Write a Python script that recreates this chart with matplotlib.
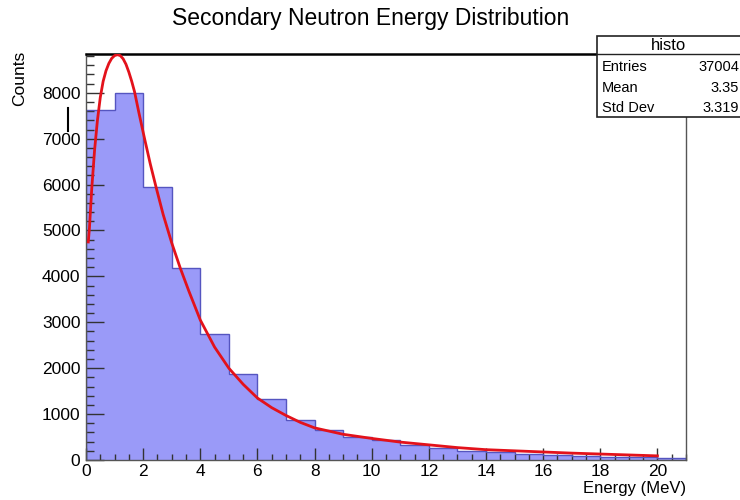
# secondary neutron energy histogram with fit curve, ROOT-like look
import numpy as np
import matplotlib
matplotlib.use('Agg')
import matplotlib.pyplot as plt
from matplotlib.patches import Rectangle
from matplotlib.lines import Line2D
from matplotlib.ticker import MultipleLocator

plt.rcParams['font.family'] = ['Liberation Sans', 'DejaVu Sans']

# histogram contents, 1 MeV bins from 0 to 21
bin_edges = np.arange(0, 22)
counts = [7625, 8000, 5950, 4180, 2740, 1870, 1330, 870, 650, 500,
          435, 330, 260, 200, 175, 130, 110, 90, 65, 65, 40]

# fit curve
fit_x = [0.08, 0.12, 0.2, 0.3, 0.4, 0.5, 0.6, 0.7, 0.8, 0.9, 1.0, 1.1,
         1.2, 1.3, 1.4, 1.5, 1.6, 1.7, 1.85, 2.05, 2.25, 2.45, 2.7, 3.0,
         3.3, 3.6, 4.0, 4.5, 5.0, 5.5, 6.0, 6.5, 7.0, 7.5, 8.0, 9.0,
         10.0, 11.0, 12.0, 13.0, 14.0, 15.0, 16.0, 17.0, 18.0, 19.0, 20.0]
fit_y = [4750, 5050, 5900, 6750, 7400, 7900, 8250, 8480, 8640, 8750, 8810, 8830,
         8810, 8740, 8620, 8450, 8250, 8020, 7570, 7000, 6450, 5950, 5350, 4730,
         4180, 3680, 3050, 2460, 2000, 1650, 1350, 1140, 970, 820, 700, 560,
         470, 390, 330, 270, 225, 200, 175, 150, 130, 110, 90]

title = 'Secondary Neutron Energy Distribution'
stats_rows = [('Entries', '37004'), ('Mean', '3.35'), ('Std Dev', '3.319')]

fig = plt.figure(figsize=(7.4, 5.0), dpi=100)
ax = fig.add_axes([86/740, 40/500, 600/740, 406/500])

ax.stairs(counts, bin_edges, fill=True, color='#9a9af8', zorder=1)
ax.stairs(counts, bin_edges, color='#5555c0', lw=1.0, zorder=2)
ax.plot(fit_x, fit_y, color='#e3121b', lw=2.0, zorder=3)

ax.set_xlim(0, 21)
ax.set_ylim(0, 8845)
ax.xaxis.set_major_locator(MultipleLocator(2))
ax.xaxis.set_minor_locator(MultipleLocator(0.5))
ax.yaxis.set_major_locator(MultipleLocator(1000))
ax.yaxis.set_minor_locator(MultipleLocator(200))
ax.tick_params(axis='x', which='major', direction='in', length=9, width=1,
               color='#333333', labelsize=12.5, pad=3)
ax.tick_params(axis='x', which='minor', direction='in', length=4, width=1,
               color='#333333')
ax.tick_params(axis='y', which='major', direction='in', length=13, width=1,
               color='#333333', labelsize=12.5, pad=4)
ax.tick_params(axis='y', which='minor', direction='in', length=6, width=1,
               color='#333333')
for s in ['left', 'right', 'bottom']:
    ax.spines[s].set_color('#555555')
    ax.spines[s].set_linewidth(1.0)
ax.spines['top'].set_color('black')
ax.spines['top'].set_linewidth(1.8)

# axis titles
fig.text(20/740, 1 - 51/500, 'Counts', rotation=90, ha='center', va='top',
         fontsize=12.5)
fig.text(686/740, 1 - 489/500, 'Energy (MeV)', ha='right', va='center',
         fontsize=12)
fig.text(371/740, 1 - 18/500, title, ha='center', va='center', fontsize=16.5)

# stats box
bx0, bx1 = 597/740, 742/740
by_top, by_sep, by_bot = 1 - 36/500, 1 - 54/500, 1 - 117/500
fig.add_artist(Rectangle((bx0, by_bot), bx1 - bx0, by_top - by_bot,
                         transform=fig.transFigure, facecolor='white',
                         edgecolor='#222222', lw=1.2, zorder=5))
fig.add_artist(Line2D([bx0, bx1], [by_sep, by_sep], transform=fig.transFigure,
                      color='#222222', lw=1.0, zorder=6))
fig.text((597 + 740) / 2 / 740, 1 - 45/500, 'histo', ha='center', va='center',
         fontsize=12, zorder=7)
row_y = [67, 88, 108]
for (name, val), yy in zip(stats_rows, row_y):
    fig.text(602/740, 1 - yy/500, name, ha='left', va='center', fontsize=10.5,
             zorder=7)
    fig.text(739/740, 1 - yy/500, val, ha='right', va='center', fontsize=10.5,
             zorder=7)

# stray tick mark left of the axis
fig.add_artist(Line2D([68/740, 68/740], [1 - 108/500, 1 - 131/500],
                      transform=fig.transFigure, color='black', lw=1.5))

fig.savefig('out.png', dpi=100)
